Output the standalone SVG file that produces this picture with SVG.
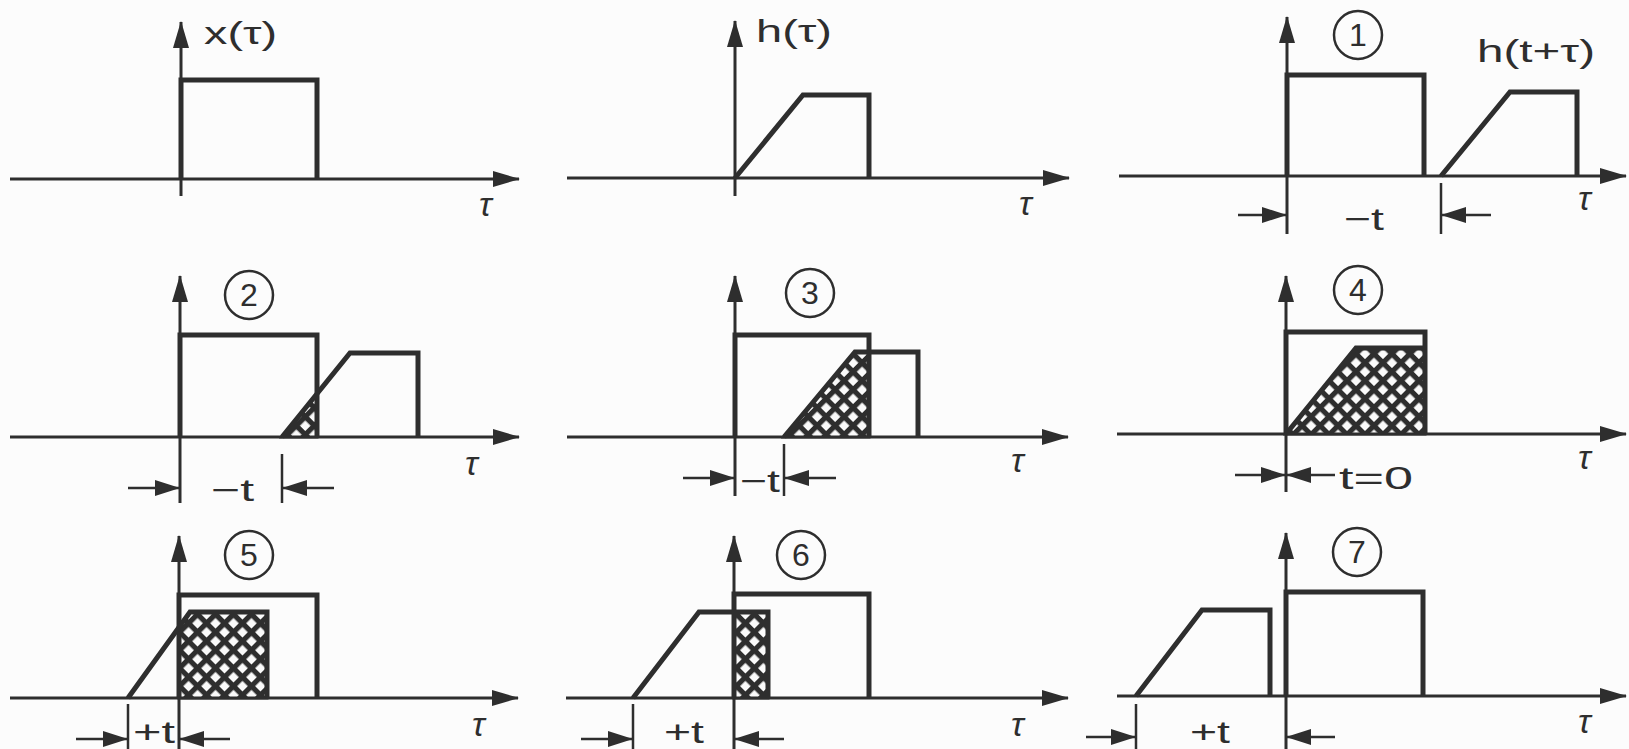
<svg xmlns="http://www.w3.org/2000/svg" width="1629" height="749" viewBox="0 0 1629 749">
<defs>
<style>
.ax{stroke:#2e2e2e;stroke-width:3;fill:none}
.ln{stroke:#2e2e2e;stroke-width:5;fill:none;stroke-linejoin:miter}
.tk{stroke:#2e2e2e;stroke-width:2.5;fill:none}
.dm{stroke:#2e2e2e;stroke-width:2.5;fill:none}
.ht{fill:url(#hatch);stroke:#2e2e2e;stroke-width:3}
.cir{stroke:#2e2e2e;stroke-width:2.5;fill:none}
text{font-family:"Liberation Sans",Arial,sans-serif;fill:#2e2e2e}
.lb{font-size:32px}
.tau{font-size:34px;font-style:italic}
.num{font-size:32px;text-anchor:middle}
</style>
<marker id="ah" markerUnits="userSpaceOnUse" markerWidth="27" markerHeight="16" refX="26" refY="8" orient="auto">
<path d="M0,0 L27,8 L0,16 Z" fill="#2e2e2e"/>
</marker>
<marker id="dh" markerUnits="userSpaceOnUse" markerWidth="25" markerHeight="16" refX="25" refY="8" orient="auto">
<path d="M0,0 L25,8 L0,16 Z" fill="#2e2e2e"/>
</marker>
<pattern id="hatch" patternUnits="userSpaceOnUse" width="12.7" height="12.7" patternTransform="rotate(45)">
<rect width="12.7" height="12.7" fill="#fafafa"/>
<rect width="5.2" height="12.7" fill="#2e2e2e"/>
<rect width="12.7" height="5.2" fill="#2e2e2e"/>
</pattern>
</defs>
<rect width="1629" height="749" fill="#fcfcfc"/>

<g id="panel-x">
<line class="ax" x1="10" y1="179" x2="519" y2="179" marker-end="url(#ah)"/>
<line class="ax" x1="181" y1="196" x2="181" y2="22" marker-end="url(#ah)"/>
<polyline class="ln" points="181,179 181,80 317,80 317,179"/>
<text class="lb" x="204" y="44" textLength="73" lengthAdjust="spacingAndGlyphs">x(τ)</text>
<text class="tau" x="479" y="216">τ</text>
</g>

<g id="panel-h">
<line class="ax" x1="567" y1="178" x2="1069" y2="178" marker-end="url(#ah)"/>
<line class="ax" x1="735" y1="196" x2="735" y2="21" marker-end="url(#ah)"/>
<polyline class="ln" points="735,178 803,95 869,95 869,178"/>
<text class="lb" x="756" y="42" textLength="76" lengthAdjust="spacingAndGlyphs">h(τ)</text>
<text class="tau" x="1019" y="215">τ</text>
</g>

<g id="panel-1">
<line class="ax" x1="1119" y1="176" x2="1626" y2="176" marker-end="url(#ah)"/>
<line class="ax" x1="1287" y1="234" x2="1287" y2="17" marker-end="url(#ah)"/>
<polyline class="ln" points="1287,176 1287,75 1424,75 1424,176"/>
<polyline class="ln" points="1441,176 1510,92 1577,92 1577,176"/>
<circle class="cir" cx="1358" cy="35" r="24"/>
<text class="num" x="1358" y="46">1</text>
<text class="lb" x="1477" y="62" textLength="118" lengthAdjust="spacingAndGlyphs">h(t+τ)</text>
<text class="tau" x="1578" y="210">τ</text>
<line class="tk" x1="1441" y1="183" x2="1441" y2="234"/>
<text class="lb" x="1344" y="230" textLength="40" lengthAdjust="spacingAndGlyphs">−t</text>
</g>

<g id="panel-2">
<line class="ax" x1="10" y1="437" x2="519" y2="437" marker-end="url(#ah)"/>
<line class="ax" x1="180" y1="503" x2="180" y2="276" marker-end="url(#ah)"/>
<polygon class="ht" points="282,437 317,394 317,437"/>
<polyline class="ln" points="180,437 180,335 317,335 317,437"/>
<polyline class="ln" points="282,437 350,353 418,353 418,437"/>
<circle class="cir" cx="249" cy="295" r="24"/>
<text class="num" x="249" y="306">2</text>
<text class="tau" x="465" y="475">τ</text>
<line class="tk" x1="282" y1="454" x2="282" y2="503"/>
<text class="lb" x="211" y="501" textLength="43" lengthAdjust="spacingAndGlyphs">−t</text>
</g>

<g id="panel-3">
<line class="ax" x1="567" y1="437" x2="1068" y2="437" marker-end="url(#ah)"/>
<line class="ax" x1="735" y1="496" x2="735" y2="276" marker-end="url(#ah)"/>
<polygon class="ht" points="784,437 855,352 869,352 869,437"/>
<polyline class="ln" points="735,437 735,335 869,335 869,437"/>
<polyline class="ln" points="784,437 855,352 918,352 918,437"/>
<circle class="cir" cx="810" cy="293" r="24"/>
<text class="num" x="810" y="304">3</text>
<text class="tau" x="1011" y="472">τ</text>
<line class="tk" x1="784" y1="444" x2="784" y2="496"/>
<text class="lb" x="740" y="492" textLength="40" lengthAdjust="spacingAndGlyphs">−t</text>
</g>

<g id="panel-4">
<line class="ax" x1="1117" y1="434" x2="1626" y2="434" marker-end="url(#ah)"/>
<line class="ax" x1="1286" y1="492" x2="1286" y2="276" marker-end="url(#ah)"/>
<polygon class="ht" points="1286,434 1356,348 1425,348 1425,434"/>
<polyline class="ln" points="1286,434 1286,332 1425,332 1425,434"/>
<polyline class="ln" points="1286,434 1356,348 1425,348"/>
<circle class="cir" cx="1358" cy="290" r="24"/>
<text class="num" x="1358" y="301">4</text>
<text class="tau" x="1578" y="469">τ</text>
<text class="lb" x="1339" y="489" textLength="74" lengthAdjust="spacingAndGlyphs">t=0</text>
</g>

<g id="panel-5">
<line class="ax" x1="10" y1="698" x2="518" y2="698" marker-end="url(#ah)"/>
<line class="ax" x1="179" y1="749" x2="179" y2="536" marker-end="url(#ah)"/>
<polygon class="ht" points="179,698 179,627 190,612 267,612 267,698"/>
<polyline class="ln" points="179,698 179,595 317,595 317,698"/>
<polyline class="ln" points="128,698 190,612 267,612 267,698"/>
<circle class="cir" cx="249" cy="555" r="24"/>
<text class="num" x="249" y="566">5</text>
<text class="tau" x="472" y="736">τ</text>
<line class="tk" x1="128" y1="704" x2="128" y2="749"/>
<text class="lb" x="133" y="743" textLength="42" lengthAdjust="spacingAndGlyphs">+t</text>
</g>

<g id="panel-6">
<line class="ax" x1="566" y1="698" x2="1068" y2="698" marker-end="url(#ah)"/>
<line class="ax" x1="734" y1="749" x2="734" y2="536" marker-end="url(#ah)"/>
<rect class="ht" x="734" y="612" width="34" height="86"/>
<polyline class="ln" points="734,698 734,594 869,594 869,698"/>
<polyline class="ln" points="633,698 699,612 768,612 768,698"/>
<circle class="cir" cx="801" cy="555" r="24"/>
<text class="num" x="801" y="566">6</text>
<text class="tau" x="1011" y="736">τ</text>
<line class="tk" x1="633" y1="704" x2="633" y2="749"/>
<text class="lb" x="664" y="743" textLength="40" lengthAdjust="spacingAndGlyphs">+t</text>
</g>

<g id="panel-7">
<line class="ax" x1="1117" y1="696" x2="1626" y2="696" marker-end="url(#ah)"/>
<line class="ax" x1="1286" y1="749" x2="1286" y2="533" marker-end="url(#ah)"/>
<polyline class="ln" points="1286,696 1286,592 1423,592 1423,696"/>
<polyline class="ln" points="1136,696 1202,610 1270,610 1270,696"/>
<circle class="cir" cx="1357" cy="552" r="24"/>
<text class="num" x="1357" y="563">7</text>
<text class="tau" x="1578" y="733">τ</text>
<line class="tk" x1="1136" y1="704" x2="1136" y2="749"/>
<text class="lb" x="1190" y="743" textLength="40" lengthAdjust="spacingAndGlyphs">+t</text>
</g>

<g id="connectors">
<line class="dm" x1="1238" y1="215" x2="1287" y2="215" marker-end="url(#dh)"/>
<line class="dm" x1="1491" y1="215" x2="1441" y2="215" marker-end="url(#dh)"/>
<line class="dm" x1="128" y1="488" x2="180" y2="488" marker-end="url(#dh)"/>
<line class="dm" x1="334" y1="488" x2="282" y2="488" marker-end="url(#dh)"/>
<line class="dm" x1="683" y1="478" x2="735" y2="478" marker-end="url(#dh)"/>
<line class="dm" x1="836" y1="478" x2="784" y2="478" marker-end="url(#dh)"/>
<line class="dm" x1="1235" y1="475" x2="1286" y2="475" marker-end="url(#dh)"/>
<line class="dm" x1="1335" y1="475" x2="1286" y2="475" marker-end="url(#dh)"/>
<line class="dm" x1="76" y1="739" x2="128" y2="739" marker-end="url(#dh)"/>
<line class="dm" x1="230" y1="739" x2="179" y2="739" marker-end="url(#dh)"/>
<line class="dm" x1="581" y1="739" x2="633" y2="739" marker-end="url(#dh)"/>
<line class="dm" x1="784" y1="739" x2="734" y2="739" marker-end="url(#dh)"/>
<line class="dm" x1="1086" y1="737" x2="1136" y2="737" marker-end="url(#dh)"/>
<line class="dm" x1="1335" y1="737" x2="1286" y2="737" marker-end="url(#dh)"/>
</g>
</svg>
